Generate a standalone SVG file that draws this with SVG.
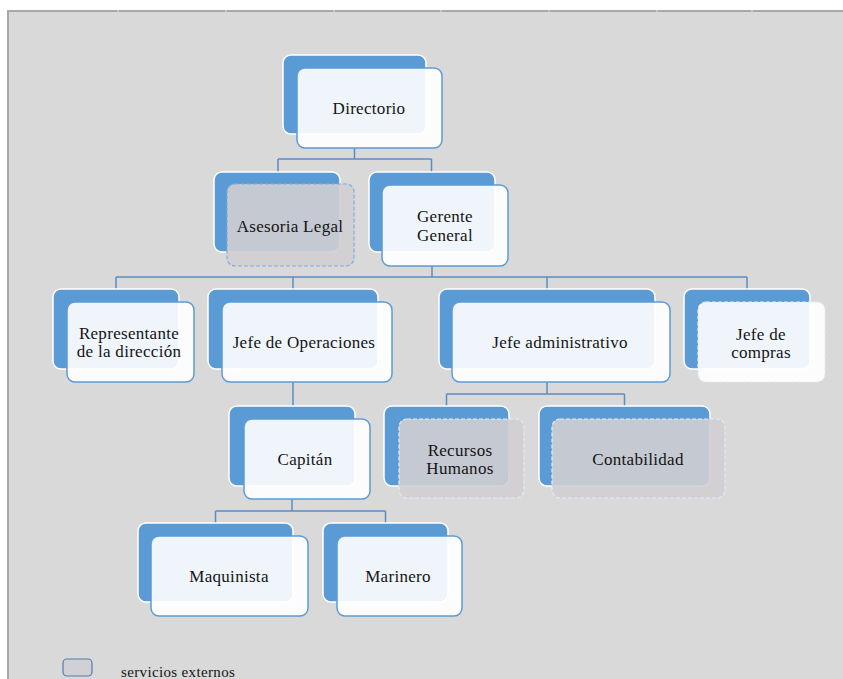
<svg xmlns="http://www.w3.org/2000/svg" width="843" height="679" viewBox="0 0 843 679">
  <style>
    .back { fill: #5b9bd5; stroke: #ffffff; stroke-width: 1.5; }
    .front { fill: #ffffff; fill-opacity: 0.9; stroke: #5b9bd5; stroke-width: 1.5; }
    .ext { fill: #d0ced0; fill-opacity: 0.9; stroke: #e4ebf3; stroke-width: 1.2; stroke-dasharray: 4 2; }
    .ext-blue { stroke: #7eaddf; }
    .ext-light { fill: #ffffff; fill-opacity: 0.9; }
    text { font-family: "Liberation Serif", Tinos, "DejaVu Serif", serif; fill: #141414; letter-spacing: 0.3px; }
    .lbl { font-size: 17px; text-anchor: middle; }
    .conn { fill: none; stroke: #5a8dc4; stroke-width: 1.5; }
  </style>

  <!-- page background and frame -->
  <rect x="0" y="0" width="843" height="679" fill="#ffffff"/>
  <rect x="8" y="11" width="840" height="672" fill="#d9d9d9"/>
  <path d="M8 680 V11 H843" fill="none" stroke="#aba7a7" stroke-width="2"/>
  <g stroke="#e2e2e2" stroke-width="1">
    <line x1="118" y1="10" x2="118" y2="12"/>
    <line x1="226" y1="10" x2="226" y2="12"/>
    <line x1="334" y1="10" x2="334" y2="12"/>
    <line x1="441" y1="10" x2="441" y2="12"/>
    <line x1="549" y1="10" x2="549" y2="12"/>
    <line x1="657" y1="10" x2="657" y2="12"/>
    <line x1="752" y1="10" x2="752" y2="12"/>
  </g>

  <!-- connectors -->
  <g id="connectors" class="conn">
    <path d="M354.5 148 V159 M278 159 H431.5 M278 159 V172 M431.5 159 V172"/>
    <path d="M432 266 V277 M116 277 H747 M116 277 V289 M293 277 V289 M547 277 V289 M747 277 V289"/>
    <path d="M547 382 V394 M446.5 394 H624.5 M446.5 394 V406 M624.5 394 V406"/>
    <path d="M293 382 V406"/>
    <path d="M292 499 V511 M215.5 511 H385.5 M215.5 511 V523 M385.5 511 V523"/>
  </g>

  <!-- level 1 -->
  <g id="directorio">
    <rect class="back" x="283" y="55" width="143" height="79" rx="8"/>
    <rect class="front" x="297" y="68" width="145" height="80" rx="8"/>
    <text class="lbl" x="369" y="114">Directorio</text>
  </g>

  <!-- level 2 -->
  <g id="asesoria-legal">
    <rect class="back" x="214" y="172" width="126" height="80" rx="8"/>
    <rect class="ext ext-blue" x="227" y="184" width="127" height="82" rx="8"/>
    <text class="lbl" x="290" y="232">Asesoria Legal</text>
  </g>
  <g id="gerente-general">
    <rect class="back" x="369" y="172" width="126" height="80" rx="8"/>
    <rect class="front" x="382" y="185" width="126" height="81" rx="8"/>
    <text class="lbl" x="445" y="222">Gerente</text>
    <text class="lbl" x="445" y="241">General</text>
  </g>

  <!-- level 3 -->
  <g id="representante">
    <rect class="back" x="53" y="289" width="126" height="80" rx="8"/>
    <rect class="front" x="67" y="302" width="127" height="80" rx="8"/>
    <text class="lbl" x="129" y="339">Representante</text>
    <text class="lbl" x="129" y="357">de la dirección</text>
  </g>
  <g id="jefe-operaciones">
    <rect class="back" x="208" y="289" width="170" height="80" rx="8"/>
    <rect class="front" x="222" y="302" width="170" height="80" rx="8"/>
    <text class="lbl" x="304" y="348">Jefe de Operaciones</text>
  </g>
  <g id="jefe-administrativo">
    <rect class="back" x="439" y="289" width="216" height="80" rx="8"/>
    <rect class="front" x="452" y="302" width="218" height="80" rx="8"/>
    <text class="lbl" x="560" y="348">Jefe administrativo</text>
  </g>
  <g id="jefe-compras">
    <rect class="back" x="684" y="289" width="126" height="80" rx="8"/>
    <rect class="ext ext-light" x="698" y="302" width="127" height="80" rx="8"/>
    <text class="lbl" x="761" y="340">Jefe de</text>
    <text class="lbl" x="761" y="358">compras</text>
  </g>

  <!-- level 4 -->
  <g id="capitan">
    <rect class="back" x="229" y="406" width="126" height="80" rx="8"/>
    <rect class="front" x="244" y="419" width="126" height="80" rx="8"/>
    <text class="lbl" x="305" y="465">Capitán</text>
  </g>
  <g id="recursos-humanos">
    <rect class="back" x="384" y="406" width="125" height="80" rx="8"/>
    <rect class="ext" x="399" y="419" width="125" height="79" rx="8"/>
    <text class="lbl" x="460" y="456">Recursos</text>
    <text class="lbl" x="460" y="474">Humanos</text>
  </g>
  <g id="contabilidad">
    <rect class="back" x="539" y="406" width="171" height="80" rx="8"/>
    <rect class="ext" x="552" y="419" width="173" height="79" rx="8"/>
    <text class="lbl" x="638" y="465">Contabilidad</text>
  </g>

  <!-- level 5 -->
  <g id="maquinista">
    <rect class="back" x="138" y="523" width="155" height="79" rx="8"/>
    <rect class="front" x="151" y="536" width="157" height="80" rx="8"/>
    <text class="lbl" x="229" y="582">Maquinista</text>
  </g>
  <g id="marinero">
    <rect class="back" x="323" y="523" width="125" height="79" rx="8"/>
    <rect class="front" x="337" y="536" width="125" height="80" rx="8"/>
    <text class="lbl" x="398" y="582">Marinero</text>
  </g>

  <!-- legend -->
  <g id="legend">
    <rect x="63" y="659" width="29" height="17" rx="4" fill="#d2d0d4" stroke="#4f7fb0" stroke-width="1.2"/>
    <text x="121" y="677" font-size="15" style="letter-spacing:0.35px">servicios externos</text>
  </g>
</svg>
